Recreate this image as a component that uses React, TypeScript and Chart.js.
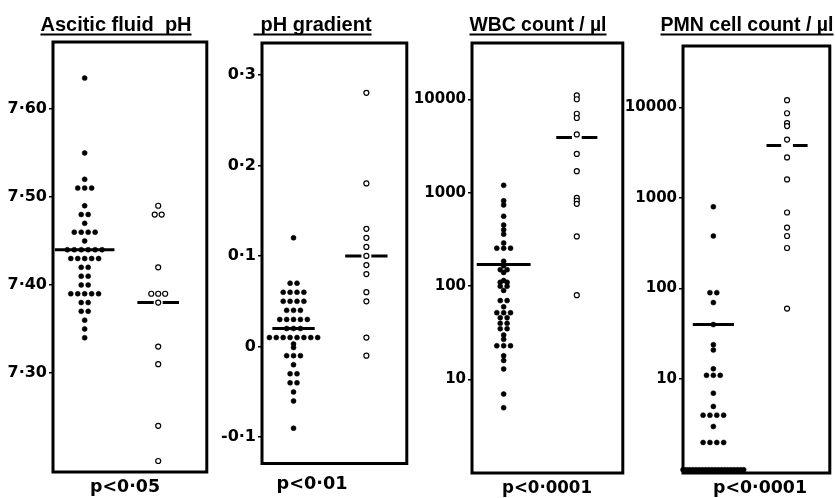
import React, { useEffect, useRef } from "react";
import { Chart, registerables } from "chart.js";

Chart.register(...registerables);

// ---------------- DATA ----------------
const groupLabels = ["● group", "○ group"];

const panelTitles = ["Ascitic fluid  pH", "pH gradient", "WBC count / µl", "PMN cell count / µl"];
const pValueLabels = ["p<0·05", "p<0·01", "p<0·0001", "p<0·0001"];

// Panel 1: ascitic fluid pH
const phTicks = [7.3, 7.4, 7.5, 7.6];
const phTickLabels = ["7·30", "7·40", "7·50", "7·60"];
const phClosed = [
  7.635, 7.55, 7.52, 7.51, 7.51, 7.51, 7.49, 7.48, 7.48, 7.47,
  7.46, 7.46, 7.46, 7.46, 7.45,
  7.44, 7.44, 7.44, 7.44, 7.44, 7.44,
  7.43, 7.43, 7.43, 7.43, 7.43,
  7.42, 7.42, 7.41, 7.41, 7.40, 7.40,
  7.39, 7.39, 7.39, 7.39, 7.39,
  7.38, 7.38, 7.37, 7.37, 7.36, 7.35, 7.34,
];
const phOpen = [7.49, 7.48, 7.48, 7.42, 7.39, 7.39, 7.39, 7.38, 7.33, 7.31, 7.24, 7.2];
const phMedians = [7.44, 7.38];

// Panel 2: pH gradient
const gradTicks = [-0.1, 0, 0.1, 0.2, 0.3];
const gradTickLabels = ["-0·1", "0", "0·1", "0·2", "0·3"];
const gradClosed = [
  0.12, 0.07, 0.07, 0.06, 0.06, 0.06, 0.06, 0.05, 0.05, 0.05, 0.05,
  0.04, 0.04, 0.04, 0.03, 0.03, 0.03, 0.03, 0.03, 0.02, 0.02, 0.02,
  0.01, 0.01, 0.01, 0.01, 0.01, 0.01, 0.01, 0.01,
  0.003, -0.001, -0.01, -0.01, -0.01, -0.02, -0.03, -0.03, -0.04, -0.04,
  -0.05, -0.06, -0.09,
];
const gradOpen = [0.28, 0.18, 0.13, 0.12, 0.11, 0.1, 0.09, 0.08, 0.06, 0.05, 0.01, -0.01];
const gradMedians = [0.02, 0.1];

// Panel 3 & 4: counts (log axis)
const countTicks = [10, 100, 1000, 10000];
const countTickLabels = ["10", "100", "1000", "10000"];
const wbcClosed = [
  1200, 820, 740, 560, 450, 400, 360, 290, 255, 255, 255, 185, 165, 150, 150, 140,
  115, 110, 110, 100, 100, 90, 70, 70, 60, 52, 52, 52, 46, 46, 40, 40, 35, 35,
  30, 27, 23, 23, 23, 18, 16, 13, 7, 5,
];
const wbcOpen = [11000, 10000, 7000, 6300, 4200, 2600, 1700, 880, 820, 760, 340, 80];
const wbcMedians = [170, 3900];

// counts of zero are plotted on the axis floor (value 1)
const pmnClosed = [
  800, 380, 90, 90, 70, 40, 24, 21, 13, 11, 11, 11, 7, 5, 4, 4, 4, 4, 3, 2, 2, 2, 2,
  1, 1, 1, 1, 1, 1, 1, 1, 1, 1, 1, 1, 1, 1, 1, 1, 1, 1, 1, 1,
];
const pmnOpen = [12000, 8600, 6700, 6200, 4400, 2800, 1600, 690, 470, 380, 280, 60];
const pmnMedians = [40, 3800];

// ---------------- LAYOUT ----------------
type PanelCfg = {
  left: number; canvasW: number; axisW: number; padRight: number; top: number; bottom: number;
  yType: "linear" | "logarithmic"; yMin: number; yMax: number; xMin: number; xMax: number;
  tickSize: number;
  ticks: number[]; tickLabels: string[]; closed: number[]; open: number[]; medians: number[];
  medHalf: number[]; medGap: number[]; title: string; titleX: number; titleW: number; titleExtra: number;
  pText: string; pX: number; pW: number; pBase: number;
};

const panels: PanelCfg[] = [
  {
    left: 0, canvasW: 212, axisW: 53, padRight: 4, top: 42, bottom: 472,
    yType: "linear", yMin: 7.1875, yMax: 7.676, xMin: 0.569, xMax: 2.661, tickSize: 16,
    ticks: phTicks, tickLabels: phTickLabels, closed: phClosed, open: phOpen, medians: phMedians,
    medHalf: [30, 21], medGap: [0, 4.5], title: panelTitles[0], titleX: 116, titleW: 158, titleExtra: 0,
    pText: pValueLabels[0], pX: 125, pW: 70, pBase: 492,
  },
  {
    left: 212, canvasW: 200, axisW: 50, padRight: 3, top: 43, bottom: 463.5,
    yType: "linear", yMin: -0.129, yMax: 0.335, xMin: 0.567, xMax: 2.555, tickSize: 16,
    ticks: gradTicks, tickLabels: gradTickLabels, closed: gradClosed, open: gradOpen, medians: gradMedians,
    medHalf: [21.5, 21.5], medGap: [0, 5], title: panelTitles[1], titleX: 104, titleW: 112, titleExtra: 7,
    pText: pValueLabels[1], pX: 100, pW: 71, pBase: 489,
  },
  {
    left: 408, canvasW: 220, axisW: 64, padRight: 2, top: 43, bottom: 473,
    yType: "logarithmic", yMin: 1, yMax: 40000, xMin: 0.567, xMax: 2.629, tickSize: 15,
    ticks: countTicks, tickLabels: countTickLabels, closed: wbcClosed, open: wbcOpen, medians: wbcMedians,
    medHalf: [27.5, 21], medGap: [0, 5], title: panelTitles[2], titleX: 130, titleW: 137, titleExtra: 0,
    pText: pValueLabels[2], pX: 139, pW: 90, pBase: 493,
  },
  {
    left: 612, canvasW: 223, axisW: 71, padRight: 2, top: 46, bottom: 473,
    yType: "logarithmic", yMin: 0.92, yMax: 47500, xMin: 0.588, xMax: 2.58, tickSize: 15,
    ticks: countTicks, tickLabels: countTickLabels, closed: pmnClosed, open: pmnOpen, medians: pmnMedians,
    medHalf: [21, 21], medGap: [0, 6], title: panelTitles[3], titleX: 135, titleW: 173, titleExtra: 0,
    pText: pValueLabels[3], pX: 148, pW: 94, pBase: 493,
  },
];

const H = 498;

function spread(values: number[], col: number, ppu: number, spacing: number, maxSpan: number) {
  const counts = new Map<number, number>();
  values.forEach((v) => counts.set(v, (counts.get(v) || 0) + 1));
  const seen = new Map<number, number>();
  return values.map((v) => {
    const n = counts.get(v) || 1;
    const i = seen.get(v) || 0;
    seen.set(v, i + 1);
    const s = n > 1 ? Math.min(spacing, maxSpan / (n - 1)) : 0;
    const off = (i - (n - 1) / 2) * s;
    return { x: col + off / ppu, y: v };
  });
}

const framePlugin = {
  id: "frame",
  beforeDatasetsDraw(chart: any) {
    const { ctx, chartArea: a } = chart;
    ctx.save();
    ctx.lineWidth = 3;
    ctx.strokeStyle = "#000";
    ctx.strokeRect(a.left, a.top, a.right - a.left, a.bottom - a.top);
    ctx.restore();
  },
};

const textPlugin = {
  id: "panelText",
  afterDraw(chart: any, _args: any, o: any) {
    const { ctx } = chart;
    ctx.save();
    ctx.fillStyle = "#000";
    ctx.strokeStyle = "#000";
    ctx.textAlign = "center";
    ctx.textBaseline = "alphabetic";
    ctx.font = 'bold 20px "Liberation Sans", Arial, sans-serif';
    ctx.fillText(o.title, o.titleX, 31, o.titleW);
    const w = Math.min(ctx.measureText(o.title).width, o.titleW);
    ctx.lineWidth = 2;
    ctx.beginPath();
    ctx.moveTo(o.titleX - w / 2 - o.titleExtra, 34.5);
    ctx.lineTo(o.titleX + w / 2, 34.5);
    ctx.stroke();
    ctx.font = 'bold 18px "DejaVu Sans", sans-serif';
    ctx.fillText(o.pText, o.pX, o.pBase, o.pW);
    ctx.restore();
  },
};

function buildConfig(p: PanelCfg): any {
  const innerW = p.canvasW - p.axisW - p.padRight;
  const ppu = innerW / (p.xMax - p.xMin);
  const closedPts = spread(p.closed, 1, ppu, 7, 62);
  const openPts = spread(p.open, 2, ppu, 7, 62);
  const medLine = (col: number, v: number, half: number, gap: number) =>
    gap > 0
      ? [
          { x: col - half / ppu, y: v },
          { x: col - gap / ppu, y: v },
          { x: col, y: null },
          { x: col + gap / ppu, y: v },
          { x: col + half / ppu, y: v },
        ]
      : [
          { x: col - half / ppu, y: v },
          { x: col + half / ppu, y: v },
        ];
  const lineStyle = {
    showLine: true, borderColor: "#000", borderWidth: 3, pointRadius: 0, fill: false,
    borderCapStyle: "butt", spanGaps: false,
  };
  return {
    type: "scatter",
    data: {
      datasets: [
        {
          label: groupLabels[1], data: openPts, order: 0, pointStyle: "circle", pointRadius: 2.5,
          pointBackgroundColor: "#fff", pointBorderColor: "#000", pointBorderWidth: 1.2, clip: false,
        },
        {
          label: groupLabels[0], data: closedPts, order: 1, pointStyle: "circle", pointRadius: 2.5,
          pointBackgroundColor: "#000", pointBorderColor: "#000", pointBorderWidth: 0.5, clip: false,
        },
        {
          label: "median " + groupLabels[0], order: 2,
          data: medLine(1, p.medians[0], p.medHalf[0], p.medGap[0]), ...lineStyle,
        },
        {
          label: "median " + groupLabels[1], order: 3,
          data: medLine(2, p.medians[1], p.medHalf[1], p.medGap[1]), ...lineStyle,
        },
      ],
    },
    options: {
      responsive: false,
      maintainAspectRatio: false,
      animation: false,
      devicePixelRatio: 1,
      events: [],
      layout: { padding: { top: p.top, bottom: H - p.bottom, left: 0, right: p.padRight } },
      plugins: {
        legend: { display: false },
        tooltip: { enabled: false },
        title: { display: false },
        panelText: {
          title: p.title, titleX: p.titleX, titleW: p.titleW, titleExtra: p.titleExtra,
          pText: p.pText, pX: p.pX, pW: p.pW, pBase: p.pBase,
        },
      },
      scales: {
        x: { type: "linear", display: false, min: p.xMin, max: p.xMax },
        y: {
          type: p.yType,
          min: p.yMin,
          max: p.yMax,
          bounds: "data",
          afterBuildTicks: (s: any) => {
            s.ticks = p.ticks.map((v) => ({ value: v }));
          },
          afterFit: (s: any) => {
            s.width = p.axisW;
          },
          border: { display: false },
          grid: { display: true, drawOnChartArea: false, drawTicks: true, tickLength: 4, color: "#000", lineWidth: 1.5 },
          ticks: {
            autoSkip: false,
            padding: 2,
            color: "#000",
            font: { family: '"DejaVu Sans", sans-serif', weight: "bold", size: p.tickSize },
            callback: (v: number) => {
              const i = p.ticks.indexOf(v);
              return i >= 0 ? p.tickLabels[i] : "";
            },
          },
        },
      },
    },
    plugins: [framePlugin, textPlugin],
  };
}

function Panel({ cfg }: { cfg: PanelCfg }) {
  const ref = useRef<HTMLCanvasElement>(null);
  useEffect(() => {
    const chart = new Chart(ref.current as HTMLCanvasElement, buildConfig(cfg));
    return () => chart.destroy();
  }, [cfg]);
  return (
    <canvas
      ref={ref}
      width={cfg.canvasW}
      height={H}
      style={{ position: "absolute", left: cfg.left, top: 0, width: cfg.canvasW, height: H }}
    />
  );
}

export default function App() {
  return (
    <div style={{ position: "absolute", left: 0, top: 0, width: 835, height: H, background: "#fff", overflow: "hidden" }}>
      {panels.map((p, i) => (
        <Panel key={i} cfg={p} />
      ))}
    </div>
  );
}
